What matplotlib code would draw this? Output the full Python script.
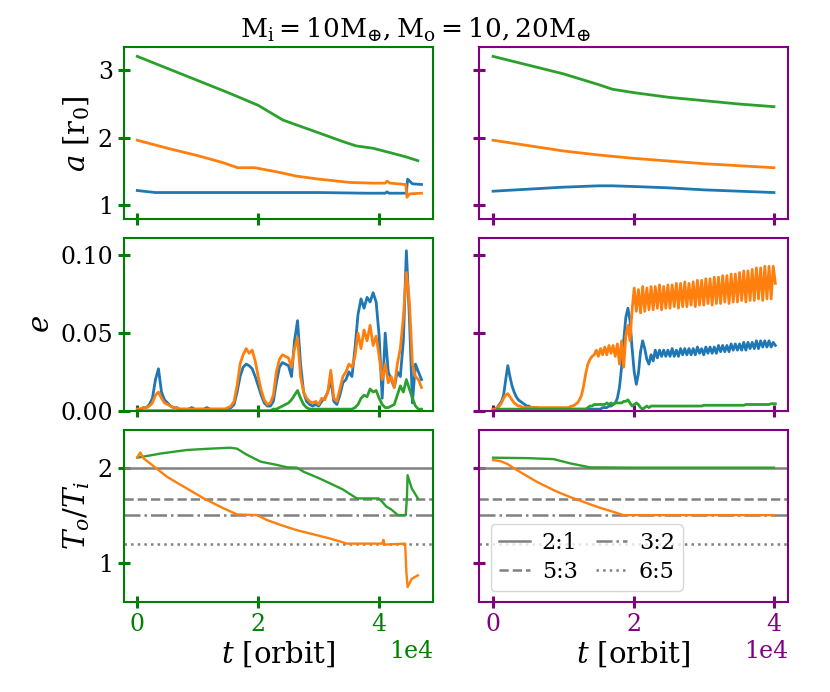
import numpy as np
import matplotlib
matplotlib.use("Agg")
import matplotlib.pyplot as plt

plt.rcParams["font.family"] = "serif"
plt.rcParams["font.serif"] = ["DejaVu Serif"]
plt.rcParams["mathtext.fontset"] = "dejavuserif"

# ------------------------------------------------------------
# data (t in units of 1e4 orbits)
# ------------------------------------------------------------
# semi-major axis, left run (Mo = 10)
t_aL_in = [0, 0.3, 1.0, 2.0, 3.0, 3.8, 4.1, 4.13, 4.16, 4.44, 4.45, 4.47, 4.55, 4.7]
aL_in = [1.21, 1.18, 1.18, 1.18, 1.18, 1.17, 1.17, 1.19, 1.17, 1.17, 1.18, 1.38, 1.31, 1.30]
t_aL_out = [0, 0.5, 1.0, 1.4, 1.66, 1.94, 2.3, 2.63, 3.0, 3.52, 3.9, 4.1, 4.13, 4.18,
            4.44, 4.46, 4.5, 4.7]
aL_out = [1.96, 1.84, 1.73, 1.63, 1.55, 1.55, 1.49, 1.425, 1.38, 1.33, 1.32, 1.32, 1.35, 1.32,
          1.30, 1.11, 1.16, 1.17]
t_aL_3 = [0, 0.5, 1.0, 1.5, 2.0, 2.41, 3.0, 3.4, 3.62, 3.9, 4.2, 4.45, 4.64]
aL_3 = [3.21, 3.03, 2.85, 2.67, 2.48, 2.26, 2.07, 1.94, 1.875, 1.84, 1.77, 1.71, 1.655]

# semi-major axis, right run (Mo = 20)
t_aR = [0, 0.5, 1.0, 1.5, 1.7, 2.0, 2.5, 3.0, 3.5, 4.0]
aR_in = [1.20, 1.23, 1.26, 1.28, 1.28, 1.27, 1.25, 1.22, 1.20, 1.18]
aR_out = [1.96, 1.88, 1.80, 1.74, 1.72, 1.69, 1.65, 1.61, 1.58, 1.55]
aR_3 = [3.21, 3.08, 2.95, 2.79, 2.72, 2.67, 2.60, 2.55, 2.50, 2.46]

# eccentricity, left run: sampled every 0.05e4 from 0 to 4.7e4
eL_in = [0.001, 0.001, 0.002, 0.002, 0.004, 0.008, 0.020, 0.027, 0.012, 0.007,
         0.005, 0.003, 0.002, 0.002, 0.001, 0.001, 0.001, 0.001, 0.002, 0.001,
         0.001, 0.001, 0.001, 0.002, 0.001, 0.001, 0.001, 0.001, 0.001, 0.001,
         0.001, 0.002, 0.004, 0.012, 0.022, 0.028, 0.030, 0.029, 0.027, 0.022,
         0.016, 0.010, 0.005, 0.003, 0.003, 0.006, 0.018, 0.028, 0.031, 0.030,
         0.029, 0.022, 0.045, 0.058, 0.030, 0.012, 0.006, 0.004, 0.003, 0.004,
         0.003, 0.006, 0.008, 0.012, 0.020, 0.006, 0.004, 0.010, 0.018, 0.020,
         0.025, 0.022, 0.040, 0.062, 0.072, 0.066, 0.073, 0.070, 0.076, 0.070,
         0.048, 0.008, 0.050, 0.025, 0.020, 0.015, 0.025, 0.022, 0.045, 0.103,
         0.060, 0.005, 0.030, 0.025, 0.020]
eL_out = [0.001, 0.001, 0.002, 0.002, 0.003, 0.005, 0.010, 0.012, 0.008, 0.005,
          0.004, 0.003, 0.002, 0.002, 0.001, 0.001, 0.001, 0.001, 0.001, 0.001,
          0.001, 0.001, 0.001, 0.001, 0.001, 0.001, 0.001, 0.001, 0.001, 0.001,
          0.002, 0.003, 0.006, 0.016, 0.030, 0.036, 0.040, 0.037, 0.039, 0.032,
          0.022, 0.013, 0.007, 0.004, 0.005, 0.010, 0.025, 0.033, 0.036, 0.035,
          0.034, 0.028, 0.040, 0.047, 0.022, 0.012, 0.008, 0.006, 0.005, 0.006,
          0.004, 0.008, 0.007, 0.012, 0.026, 0.008, 0.006, 0.014, 0.022, 0.025,
          0.030, 0.028, 0.035, 0.050, 0.040, 0.052, 0.045, 0.055, 0.042, 0.048,
          0.035, 0.020, 0.030, 0.018, 0.022, 0.015, 0.030, 0.040, 0.060, 0.089,
          0.070, 0.030, 0.022, 0.020, 0.015]
eL_3 = [0.000, 0.000, 0.000, 0.000, 0.000, 0.000, 0.000, 0.000, 0.000, 0.000,
        0.000, 0.000, 0.000, 0.000, 0.000, 0.000, 0.000, 0.000, 0.000, 0.000,
        0.000, 0.000, 0.000, 0.000, 0.000, 0.000, 0.000, 0.000, 0.000, 0.000,
        0.000, 0.000, 0.000, 0.000, 0.000, 0.000, 0.000, 0.000, 0.000, 0.000,
        0.000, 0.000, 0.000, 0.000, 0.000, 0.001, 0.001, 0.002, 0.003, 0.004,
        0.005, 0.007, 0.010, 0.013, 0.008, 0.004, 0.002, 0.001, 0.001, 0.001,
        0.001, 0.001, 0.001, 0.001, 0.001, 0.001, 0.001, 0.001, 0.001, 0.001,
        0.001, 0.001, 0.002, 0.004, 0.008, 0.010, 0.009, 0.014, 0.012, 0.013,
        0.008, 0.004, 0.002, 0.002, 0.003, 0.004, 0.010, 0.016, 0.012, 0.020,
        0.014, 0.008, 0.003, 0.001, 0.001]

# eccentricity, right run: sampled every 0.03e4 from 0 to 4.02e4
eR_in = [0.001, 0.001, 0.002, 0.004, 0.006, 0.010, 0.020, 0.029, 0.022, 0.016,
         0.012, 0.009, 0.007, 0.006, 0.005, 0.004, 0.003, 0.003, 0.002, 0.002,
         0.002, 0.002, 0.001, 0.001, 0.001, 0.001, 0.001, 0.001, 0.001, 0.001,
         0.001, 0.001, 0.001, 0.001, 0.001, 0.001, 0.001, 0.001, 0.001, 0.001,
         0.001, 0.001, 0.001, 0.001, 0.001, 0.001, 0.001, 0.001, 0.001, 0.001,
         0.001, 0.001, 0.002, 0.002, 0.002, 0.003, 0.003, 0.004, 0.005, 0.008,
         0.015, 0.028, 0.045, 0.060, 0.066, 0.058, 0.040, 0.025, 0.017, 0.024,
         0.038, 0.045, 0.040, 0.033, 0.030, 0.036, 0.032, 0.039, 0.034, 0.039,
         0.035, 0.039, 0.035, 0.039, 0.035, 0.040, 0.035, 0.039, 0.035, 0.040,
         0.036, 0.040, 0.036, 0.040, 0.036, 0.040, 0.036, 0.041, 0.037, 0.040,
         0.036, 0.041, 0.037, 0.041, 0.037, 0.041, 0.037, 0.042, 0.038, 0.042,
         0.038, 0.042, 0.038, 0.043, 0.039, 0.043, 0.039, 0.043, 0.039, 0.044,
         0.039, 0.044, 0.040, 0.044, 0.040, 0.045, 0.040, 0.045, 0.041, 0.045,
         0.041, 0.045, 0.041, 0.044, 0.042]
eR_out = [0.001, 0.001, 0.002, 0.003, 0.005, 0.008, 0.010, 0.011, 0.009, 0.007,
          0.005, 0.004, 0.003, 0.003, 0.002, 0.002, 0.002, 0.002, 0.002, 0.002,
          0.002, 0.002, 0.002, 0.002, 0.002, 0.002, 0.002, 0.002, 0.002, 0.002,
          0.002, 0.002, 0.002, 0.002, 0.002, 0.002, 0.002, 0.003, 0.003, 0.004,
          0.005, 0.007, 0.010, 0.016, 0.024, 0.030, 0.033, 0.035, 0.036, 0.039,
          0.035, 0.040, 0.036, 0.041, 0.036, 0.042, 0.037, 0.042, 0.035, 0.043,
          0.030, 0.045, 0.028, 0.048, 0.055, 0.045, 0.065, 0.079, 0.064, 0.078,
          0.063, 0.080, 0.064, 0.079, 0.065, 0.080, 0.065, 0.080, 0.066, 0.081,
          0.065, 0.080, 0.066, 0.081, 0.066, 0.081, 0.067, 0.082, 0.066, 0.082,
          0.067, 0.083, 0.067, 0.082, 0.068, 0.083, 0.067, 0.084, 0.068, 0.084,
          0.068, 0.085, 0.069, 0.085, 0.068, 0.086, 0.069, 0.086, 0.069, 0.087,
          0.070, 0.087, 0.069, 0.088, 0.070, 0.088, 0.070, 0.089, 0.071, 0.090,
          0.070, 0.090, 0.071, 0.091, 0.071, 0.092, 0.072, 0.092, 0.071, 0.093,
          0.072, 0.093, 0.072, 0.093, 0.082]
eR_3 = [0.000, 0.000, 0.001, 0.001, 0.001, 0.001, 0.001, 0.001, 0.001, 0.001,
        0.001, 0.001, 0.001, 0.001, 0.001, 0.001, 0.001, 0.001, 0.001, 0.001,
        0.001, 0.001, 0.001, 0.001, 0.001, 0.001, 0.001, 0.001, 0.001, 0.001,
        0.001, 0.001, 0.001, 0.001, 0.001, 0.001, 0.001, 0.001, 0.001, 0.001,
        0.001, 0.001, 0.001, 0.001, 0.001, 0.002, 0.003, 0.003, 0.004, 0.004,
        0.004, 0.004, 0.004, 0.004, 0.005, 0.004, 0.005, 0.004, 0.005, 0.005,
        0.005, 0.005, 0.006, 0.006, 0.007, 0.005, 0.003, 0.004, 0.005, 0.004,
        0.002, 0.001, 0.002, 0.003, 0.002, 0.003, 0.003, 0.003, 0.003, 0.003,
        0.003, 0.003, 0.003, 0.003, 0.003, 0.003, 0.003, 0.003, 0.003, 0.003,
        0.003, 0.003, 0.003, 0.003, 0.003, 0.003, 0.003, 0.003, 0.003, 0.003,
        0.0035, 0.0035, 0.0035, 0.0035, 0.0035, 0.0035, 0.0035, 0.0035, 0.0035, 0.0035,
        0.0035, 0.0035, 0.0035, 0.0035, 0.0035, 0.0035, 0.0035, 0.0035, 0.0035, 0.0035,
        0.004, 0.004, 0.004, 0.004, 0.004, 0.004, 0.004, 0.004, 0.004, 0.004,
        0.004, 0.004, 0.0045, 0.0045, 0.0045]

# period ratio T_o/T_i
t_TL_out = [0, 0.05, 0.1, 0.5, 1.1, 1.4, 1.65, 1.98, 2.15, 2.4, 2.64, 2.9, 3.19, 3.47,
            3.8, 4.05, 4.07, 4.09, 4.43, 4.45, 4.47, 4.54, 4.64]
TL_out = [2.11, 2.16, 2.10, 1.90, 1.676, 1.58, 1.507, 1.50, 1.447, 1.39, 1.341, 1.30,
          1.253, 1.20, 1.20, 1.20, 1.24, 1.19, 1.20, 0.90, 0.743, 0.83, 0.866]
t_TL_3 = [0, 0.4, 0.82, 1.2, 1.54, 1.65, 1.8, 2.04, 2.3, 2.48, 2.64, 2.75, 3.0, 3.19,
          3.4, 3.63, 3.99, 4.05, 4.12, 4.2, 4.31, 4.44, 4.46, 4.47, 4.54, 4.64]
TL_3 = [2.105, 2.15, 2.186, 2.20, 2.21, 2.20, 2.14, 2.063, 2.03, 2.003, 2.00, 1.957,
        1.89, 1.834, 1.77, 1.676, 1.676, 1.64, 1.59, 1.56, 1.50, 1.50, 1.70, 1.92,
        1.78, 1.676]
t_TR_out = [0, 0.1, 0.2, 0.35, 0.62, 0.9, 1.1, 1.48, 1.86, 2.5, 3.0, 4.0]
TR_out = [2.08, 2.07, 2.04, 1.97, 1.852, 1.75, 1.69, 1.588, 1.50, 1.50, 1.50, 1.50]
t_TR_3 = [0, 0.5, 0.86, 1.1, 1.38, 2.0, 3.0, 4.0]
TR_3 = [2.105, 2.10, 2.09, 2.045, 2.003, 2.0, 2.0, 2.0]

res_labels = ["2:1", "5:3", "3:2", "6:5"]
res_values = [2.0, 5 / 3, 1.5, 1.2]
res_styles = ["-", "--", "-.", ":"]

col_colors = ["green", "purple"]
t_eL = np.linspace(0, 4.7, len(eL_in))
t_eR = np.linspace(0, 4.02, len(eR_in))

# ------------------------------------------------------------
# figure
# ------------------------------------------------------------
fig, axes = plt.subplots(3, 2, figsize=(8.3, 6.92), dpi=100, sharex="col", sharey="row")
fig.subplots_adjust(left=0.1494, right=0.9494, top=0.9321, bottom=0.130,
                    wspace=0.149, hspace=0.11)

s = 1e4
lw = 2.0
ax = axes[0, 0]
ax.plot(np.array(t_aL_in) * s, aL_in, color="C0", lw=lw)
ax.plot(np.array(t_aL_out) * s, aL_out, color="C1", lw=lw)
ax.plot(np.array(t_aL_3) * s, aL_3, color="C2", lw=lw)
ax = axes[0, 1]
ax.plot(np.array(t_aR) * s, aR_in, color="C0", lw=lw)
ax.plot(np.array(t_aR) * s, aR_out, color="C1", lw=lw)
ax.plot(np.array(t_aR) * s, aR_3, color="C2", lw=lw)

ax = axes[1, 0]
ax.plot(t_eL * s, eL_in, color="C0", lw=lw)
ax.plot(t_eL * s, eL_out, color="C1", lw=lw)
ax.plot(t_eL * s, eL_3, color="C2", lw=lw)
ax = axes[1, 1]
ax.plot(t_eR * s, eR_in, color="C0", lw=lw)
ax.plot(t_eR * s, eR_out, color="C1", lw=lw)
ax.plot(t_eR * s, eR_3, color="C2", lw=lw)

for j in range(2):
    ax = axes[2, j]
    for val, ls, lab in zip(res_values, res_styles, res_labels):
        ax.axhline(val, color="gray", ls=ls, lw=1.8, label=lab)
axes[2, 0].plot(np.array(t_TL_3) * s, TL_3, color="C2", lw=1.7)
axes[2, 0].plot(np.array(t_TL_out) * s, TL_out, color="C1", lw=1.7)
axes[2, 1].plot(np.array(t_TR_3) * s, TR_3, color="C2", lw=1.7)
axes[2, 1].plot(np.array(t_TR_out) * s, TR_out, color="C1", lw=1.7)

axes[2, 1].legend(loc="lower left", bbox_to_anchor=(0.038, 0.066), borderaxespad=0,
                  ncol=2, fontsize=16, handlelength=1.4, columnspacing=0.8,
                  handletextpad=0.55, borderpad=0.35, labelspacing=0.3)

axes[0, 0].set_ylim(0.78, 3.35)
axes[1, 0].set_ylim(0, 0.111)
axes[2, 0].set_ylim(0.585, 2.40)
axes[0, 0].set_yticks([1, 2, 3])
axes[1, 0].set_yticks([0, 0.05, 0.10])
axes[2, 0].set_yticks([1, 2])
axes[0, 0].set_xlim(-0.22 * s, 4.89 * s)
axes[0, 1].set_xlim(-0.2 * s, 4.2 * s)

axes[0, 0].set_ylabel(r"$a\ [\mathrm{r}_0]$", fontsize=21, labelpad=4)
axes[1, 0].set_ylabel(r"$e$", fontsize=21, labelpad=4)
axes[2, 0].set_ylabel(r"$T_o/T_i$", fontsize=21, labelpad=4)

for j, c in enumerate(col_colors):
    for i in range(3):
        ax = axes[i, j]
        for sp in ax.spines.values():
            sp.set_color(c)
            sp.set_linewidth(1.5)
        ax.set_xticks([0, 2 * s, 4 * s])
        ax.ticklabel_format(axis="x", style="sci", scilimits=(0, 0))
        ax.tick_params(direction="inout", length=9, width=2.2, colors=c, labelsize=17)
        ax.tick_params(axis="y", labelcolor="black")
    axes[2, j].set_xlabel(r"$t$ [orbit]", fontsize=21, labelpad=2)
    axes[2, j].xaxis.get_offset_text().set_color(c)
    axes[2, j].xaxis.get_offset_text().set_fontsize(17)

fig.suptitle(r"$\mathrm{M_i}=10\mathrm{M}_{\oplus}, \mathrm{M_o}=10, 20\mathrm{M}_{\oplus}$",
             fontsize=19, y=0.978)

plt.savefig("out.png", dpi=100)
